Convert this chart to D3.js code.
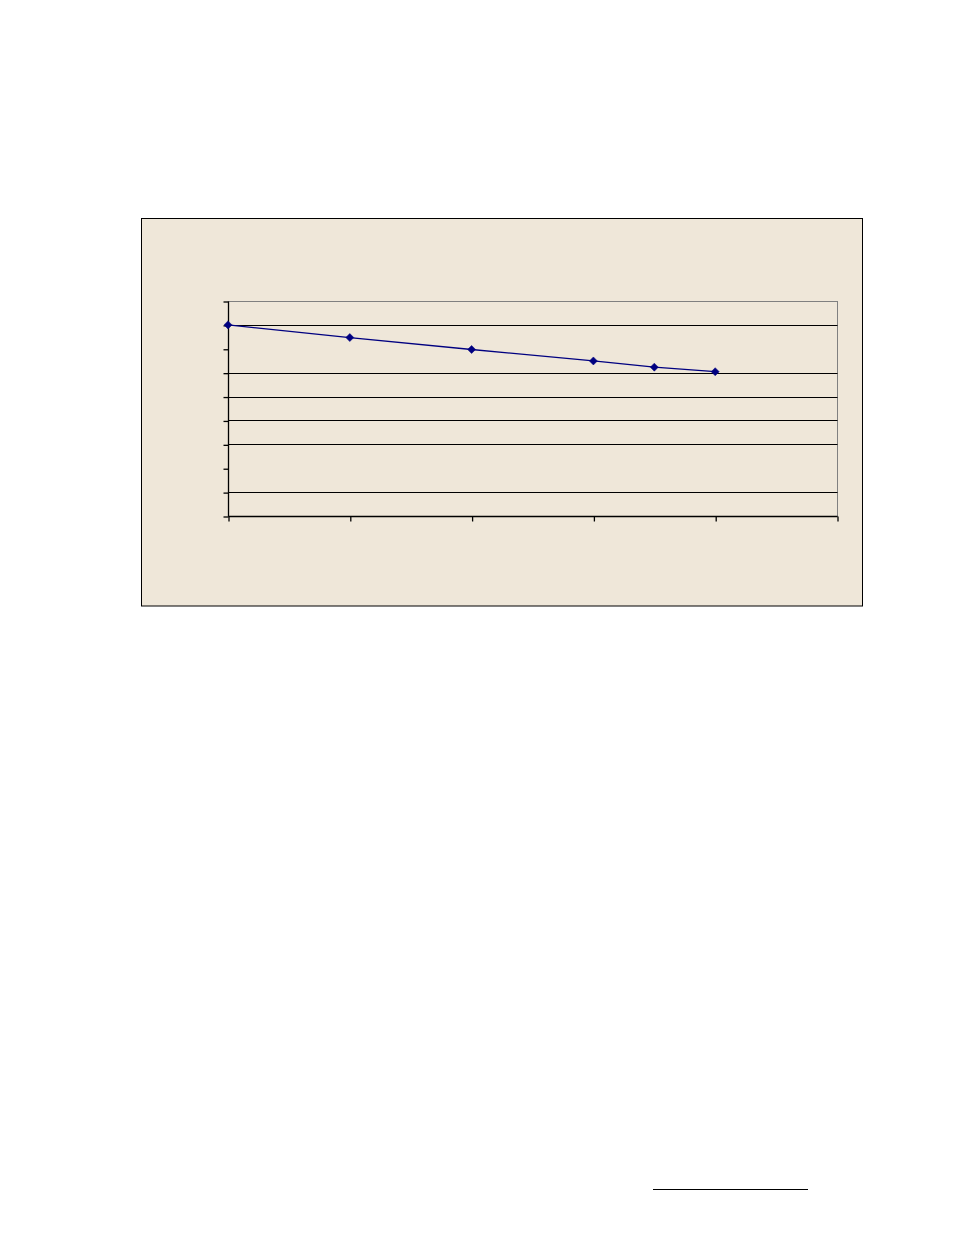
<!DOCTYPE html>
<html>
<head>
<meta charset="utf-8">
<script src="https://cdn.jsdelivr.net/npm/d3@7"></script>
<style>
  html, body { margin: 0; padding: 0; background: #ffffff; }
  svg { display: block; }
</style>
</head>
<body>
<div id="chart"></div>
<script>
// ---- data ----
const xValues = [0, 1, 2, 3, 3.5, 4];
const yValues = [8, 7.47, 6.97, 6.49, 6.23, 6.04];
const xTicks = [0, 1, 2, 3, 4, 5];
const yTicks = [0, 1, 2, 3, 4, 5, 6, 7, 8, 9];
const gridValues = [1, 3, 4, 5, 6, 8];

// ---- layout ----
const W = 954, H = 1235;
const frame = { x: 141.5, y: 218.5, w: 721, h: 387.5 };
const plot = { left: 228, right: 837, top: 301, bottom: 516 };
const bg = "#EFE7D9";
const navy = "#000080";

const svg = d3.select("#chart").append("svg")
  .attr("width", W).attr("height", H);

// outer chart frame
svg.append("rect")
  .attr("x", frame.x).attr("y", frame.y)
  .attr("width", frame.w).attr("height", frame.h)
  .attr("fill", bg).attr("stroke", "#000").attr("stroke-width", 1);

const x = d3.scaleLinear().domain([0, 5]).range([plot.left, plot.right]);
const y = d3.scaleLinear().domain([0, 9]).range([plot.bottom, plot.top]);

// plot area border (grey)
svg.append("rect")
  .attr("x", plot.left + 0.5).attr("y", plot.top + 0.5)
  .attr("width", plot.right - plot.left).attr("height", plot.bottom - plot.top)
  .attr("fill", bg).attr("stroke", "#808080").attr("stroke-width", 1);

// gridlines
svg.append("g").selectAll("line").data(gridValues).join("line")
  .attr("x1", plot.left).attr("x2", plot.right + 0.5)
  .attr("y1", d => Math.round(y(d)) + 0.5).attr("y2", d => Math.round(y(d)) + 0.5)
  .attr("stroke", "#000").attr("stroke-width", 1);

// axes
const yAxis = d3.axisLeft(y).tickValues(yTicks).tickSize(5).tickFormat("");
const gy = svg.append("g").attr("transform", `translate(${plot.left + 0.5},0.5)`).call(yAxis);
gy.selectAll("path, line").attr("stroke", "#000").attr("stroke-width", 1.3);
gy.select(".domain").attr("d", `M0,${plot.top}V${plot.bottom}`);

const xAxis = d3.axisBottom(x).tickValues(xTicks).tickSize(5).tickFormat("");
const gx = svg.append("g").attr("transform", `translate(0.5,${plot.bottom + 0.5})`).call(xAxis);
gx.selectAll("path, line").attr("stroke", "#000").attr("stroke-width", 1.3);
gx.select(".domain").attr("d", `M${plot.left},0H${plot.right}`);

// series line
const pts = xValues.map((v, i) => [v, yValues[i]]);
svg.append("path")
  .datum(pts)
  .attr("d", d3.line().x(d => x(d[0])).y(d => y(d[1])))
  .attr("fill", "none").attr("stroke", navy).attr("stroke-width", 1.3);

// diamond markers
svg.append("g").selectAll("path").data(pts).join("path")
  .attr("transform", d => `translate(${x(d[0])},${y(d[1])}) rotate(45)`)
  .attr("d", d3.symbol().type(d3.symbolSquare).size(32))
  .attr("fill", navy).attr("stroke", navy).attr("stroke-width", 0.5);

// footnote rule at bottom of page
svg.append("line")
  .attr("x1", 653).attr("x2", 808).attr("y1", 1189.5).attr("y2", 1189.5)
  .attr("stroke", "#000").attr("stroke-width", 1.2);
</script>
</body>
</html>
